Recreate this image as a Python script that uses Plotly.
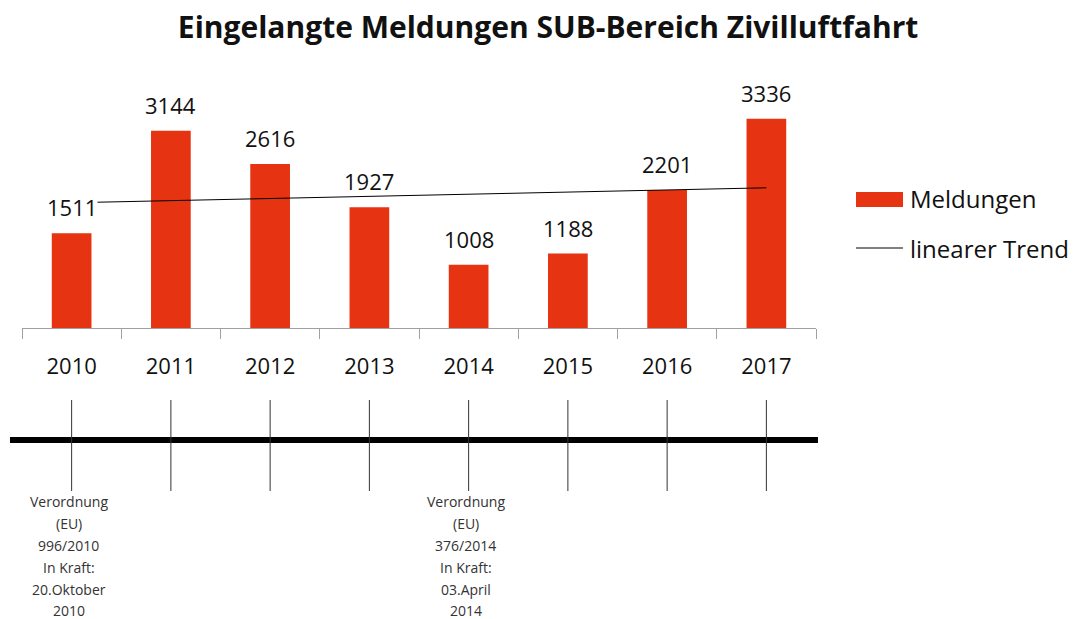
import plotly.graph_objects as go

years = ["2010", "2011", "2012", "2013", "2014", "2015", "2016", "2017"]
meldungen = [1511, 3144, 2616, 1927, 1008, 1188, 2201, 3336]
trend_years = ["2010", "2017"]
trend_values = [1997, 2236]
events_years = ["2010", "2014"]
events_lines = [
    ["Verordnung", "(EU)", "996/2010", "In Kraft:", "20.Oktober", "2010"],
    ["Verordnung", "(EU)", "376/2014", "In Kraft:", "03.April", "2014"],
]
legend_labels = ["Meldungen", "linearer Trend"]

FONT = "Open Sans"
RED = "#E63312"

# plot area geometry (pixels) used to convert layout positions to paper coords
PL, PR, PT, PB = 22, 816, 77, 328
def px_x(px):
    return (px - PL) / (PR - PL)
def px_y(py):
    return (PB - py) / (PB - PT)

def idx(yr):
    return years.index(yr)

fig = go.Figure()
fig.add_trace(go.Bar(
    x=years, y=meldungen, name=legend_labels[0],
    marker=dict(color=RED, line=dict(width=0)), showlegend=False,
))
fig.add_trace(go.Scatter(
    x=trend_years, y=trend_values, name=legend_labels[1],
    mode="lines", line=dict(color="black", width=1), showlegend=False,
))

annotations = []
for yr, v in zip(years, meldungen):
    annotations.append(dict(
        x=idx(yr), y=v, xref="x", yref="y", text=str(v), showarrow=False,
        yanchor="bottom", yshift=10, font=dict(size=22, color="#111111", family=FONT),
        bgcolor="white" if yr == "2010" else "rgba(0,0,0,0)", borderpad=0,
    ))
line_centers = [501, 523, 545, 567, 589, 610]
for yr, lines in zip(events_years, events_lines):
    for ln, cy in zip(lines, line_centers):
        annotations.append(dict(
            x=idx(yr), y=px_y(cy), xref="x", yref="paper", text=ln, showarrow=False,
            xshift=-3, yanchor="middle", xanchor="center", align="center",
            font=dict(size=14, color="#333333", family=FONT),
        ))
# legend (custom, to match wide keys)
for lab, cy in zip(legend_labels, [198, 248]):
    annotations.append(dict(
        x=px_x(908), y=px_y(cy), xref="paper", yref="paper", text=lab, showarrow=False,
        xanchor="left", yanchor="middle", font=dict(size=24, color="#111111", family=FONT),
    ))

shapes = [dict(
    type="line", xref="paper", yref="paper", x0=px_x(10), x1=px_x(818),
    y0=px_y(440), y1=px_y(440), line=dict(color="black", width=6),
)]
for yr in years:
    shapes.append(dict(
        type="line", xref="x", yref="paper", x0=idx(yr), x1=idx(yr),
        y0=px_y(400), y1=px_y(491), line=dict(color="#333333", width=1),
    ))
shapes.append(dict(
    type="rect", xref="paper", yref="paper", x0=px_x(856), x1=px_x(903),
    y0=px_y(192), y1=px_y(207), fillcolor=RED, line=dict(width=0),
))
shapes.append(dict(
    type="line", xref="paper", yref="paper", x0=px_x(856), x1=px_x(903),
    y0=px_y(248), y1=px_y(248), line=dict(color="black", width=1),
))

fig.update_layout(
    width=1081, height=619,
    margin=dict(l=PL, r=1081 - PR, t=PT, b=619 - PB),
    paper_bgcolor="white", plot_bgcolor="white",
    title=dict(text="<b>Eingelangte Meldungen SUB-Bereich Zivilluftfahrt</b>",
               x=0.507, xanchor="center", y=0.955, yanchor="middle",
               font=dict(size=30, color="#111111", family=FONT)),
    bargap=0.6,
    showlegend=False,
    font=dict(family=FONT),
    annotations=annotations,
    shapes=shapes,
)
fig.update_xaxes(
    type="category", range=[-0.5, 7.5], showline=True, linecolor="#A0A0A0", linewidth=1,
    ticks="outside", tickson="boundaries", ticklen=10, tickcolor="#A0A0A0",
    ticklabelstandoff=19,
    tickfont=dict(size=22, color="#111111", family=FONT), showgrid=False, tickangle=0,
)
fig.update_yaxes(range=[0, 4003], visible=False, showgrid=False)

fig.write_html("out.html")
